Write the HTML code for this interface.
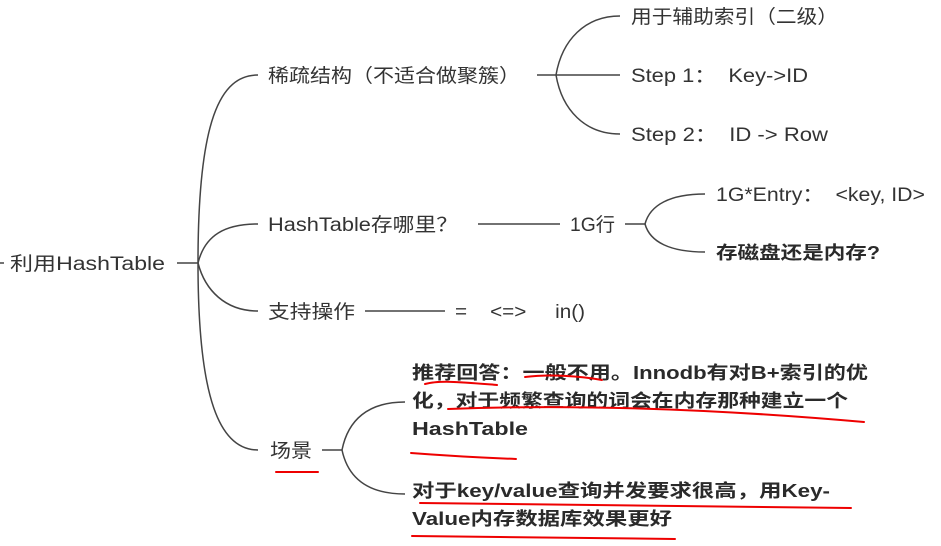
<!DOCTYPE html>
<html><head><meta charset="utf-8"><style>
html,body{margin:0;padding:0;background:#fff;width:941px;height:546px;overflow:hidden}
svg text{font-family:"Liberation Sans","Noto Sans CJK SC",sans-serif;fill:#333;font-size:19px;white-space:pre}
.b{font-weight:bold;font-size:18px;fill:#2a2a2a}
</style></head><body>
<svg width="941" height="546" viewBox="0 0 941 546" xmlns="http://www.w3.org/2000/svg">
<g fill="none" stroke="#444" stroke-width="1.5">
<path d="M0 263H4"/>
<path d="M177 263H198"/>
<path d="M198 263C198 120 220 75 258 75"/>
<path d="M198 263C205 235 225 224 258 224"/>
<path d="M198 263C205 290 225 311 258 311"/>
<path d="M198 263C198 400 220 450 258 450"/>
<path d="M537 75H556"/>
<path d="M556 75C562 40 585 16 620 16"/>
<path d="M556 75H620"/>
<path d="M556 75C562 110 585 134 620 134"/>
<path d="M478 224H560"/>
<path d="M625 224H645"/>
<path d="M645 224C650 205 670 194 705 194"/>
<path d="M645 224C650 242 670 252 705 252"/>
<path d="M365 311H445"/>
<path d="M322 450H342"/>
<path d="M342 450C348 420 368 402 405 402"/>
<path d="M342 450C348 478 368 494 405 494"/>
</g>
<g lengthAdjust="spacingAndGlyphs">
<text x="10" y="270" textLength="155" lengthAdjust="spacingAndGlyphs">利用HashTable</text>
<text x="268" y="82" textLength="252" lengthAdjust="spacingAndGlyphs">稀疏结构（不适合做聚簇）</text>
<text x="631" y="23" textLength="207" lengthAdjust="spacingAndGlyphs">用于辅助索引（二级）</text>
<text x="631" y="82" textLength="177" lengthAdjust="spacingAndGlyphs">Step 1：  Key-&gt;ID</text>
<text x="631" y="141" textLength="197" lengthAdjust="spacingAndGlyphs">Step 2：  ID -&gt; Row</text>
<text x="268" y="231" textLength="190" lengthAdjust="spacingAndGlyphs">HashTable存哪里？</text>
<text x="570" y="231" textLength="45" lengthAdjust="spacingAndGlyphs">1G行</text>
<text x="716" y="201" textLength="209" lengthAdjust="spacingAndGlyphs">1G*Entry：  &lt;key, ID&gt;</text>
<text x="716" y="259" class="b" textLength="164" lengthAdjust="spacingAndGlyphs">存磁盘还是内存?</text>
<text x="268" y="318" textLength="87" lengthAdjust="spacingAndGlyphs">支持操作</text>
<text x="455" y="318" textLength="130" lengthAdjust="spacingAndGlyphs">=    &lt;=&gt;     in()</text>
<text x="270" y="457" textLength="42" lengthAdjust="spacingAndGlyphs">场景</text>
<text x="412" y="379" class="b" textLength="456" lengthAdjust="spacingAndGlyphs">推荐回答：一般不用。Innodb有对B+索引的优</text>
<text x="412" y="407" class="b" textLength="436" lengthAdjust="spacingAndGlyphs">化，对于频繁查询的词会在内存那种建立一个</text>
<text x="412" y="435" class="b" textLength="116" lengthAdjust="spacingAndGlyphs">HashTable</text>
<text x="412" y="497" class="b" textLength="418" lengthAdjust="spacingAndGlyphs">对于key/value查询并发要求很高，用Key-</text>
<text x="412" y="525" class="b" textLength="260" lengthAdjust="spacingAndGlyphs">Value内存数据库效果更好</text>
</g>
<g fill="none" stroke="#e00" stroke-width="2" stroke-linecap="round">
<path d="M276 472H318"/>
<path d="M425 384C440 380 460 382 497 385"/>
<path d="M525 377C550 374 580 376 602 380"/>
<path d="M448 409C600 403 750 412 864 422"/>
<path d="M411 453C450 456 490 458 516 459"/>
<path d="M420 503C600 505 750 506 851 508"/>
<path d="M412 536C500 537 600 538 675 539"/>
</g>
</svg>
</body></html>
